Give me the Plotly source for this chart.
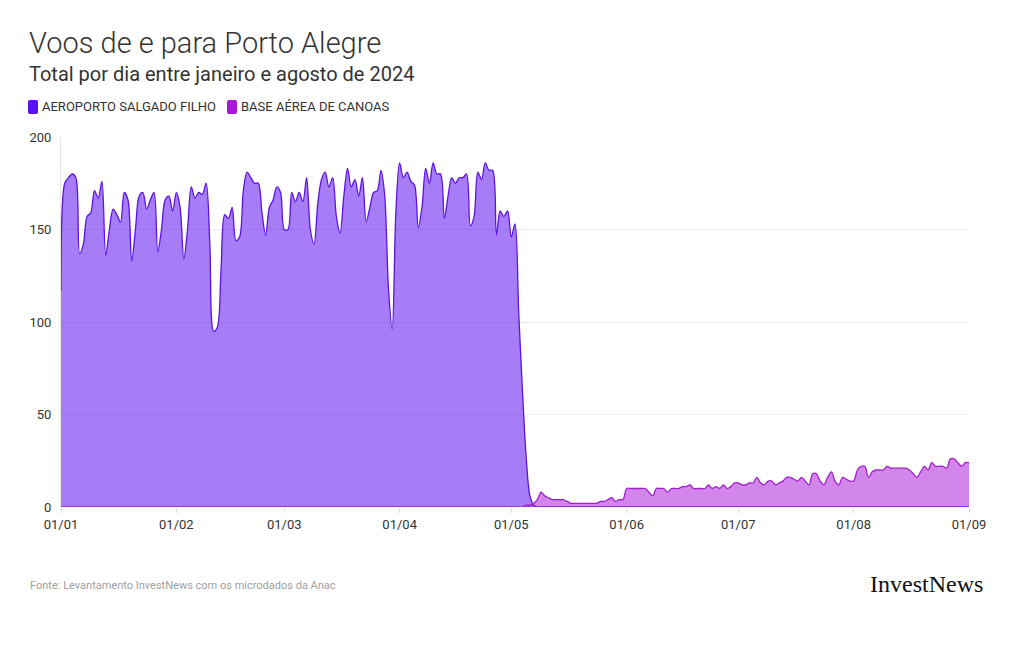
import plotly.graph_objects as go
import pandas as pd

# ---------------- data ----------------
dates = pd.date_range("2024-01-01", "2024-09-01", freq="D")

series_names = ["AEROPORTO SALGADO FILHO", "BASE AÉREA DE CANOAS"]

salgado = [
    117, 175, 178, 180, 178, 137, 142, 157, 159, 171, 167, 176, 136, 150, 161, 158,
    154, 170, 166, 133, 150, 168, 170, 161, 166, 170, 138, 150, 166, 168, 160, 170,
    162, 134, 150, 173, 167, 170, 169, 175, 142, 95, 97, 128, 158, 156, 162, 144,
    146, 171, 181, 178, 175, 175, 159, 147, 162, 166, 173, 170, 150, 150, 170,
    165, 170, 165, 178, 150, 142, 164, 177, 181, 173, 178, 157, 148, 168, 183, 173,
    177, 168, 178, 154, 162, 170, 171, 182, 168, 118, 96, 160, 186, 178, 181,
    176, 174, 151, 162, 183, 175, 186, 180, 180, 156, 168, 178, 175, 178, 178, 180,
    152, 157, 181, 177, 186, 182, 182, 147, 160, 157, 160, 146, 153, 105, 63, 27,
    6, 1,
    0, 0, 0, 0, 0, 0, 0, 0, 0, 0, 0, 0, 0, 0, 0, 0, 0, 0, 0, 0,
    0, 0, 0, 0, 0, 0, 0, 0, 0, 0, 0, 0, 0, 0, 0, 0, 0, 0, 0, 0,
    0, 0, 0, 0, 0, 0, 0, 0, 0, 0, 0, 0, 0, 0, 0, 0, 0, 0, 0, 0,
    0, 0, 0, 0, 0, 0, 0, 0, 0, 0, 0, 0, 0, 0, 0, 0, 0, 0, 0, 0,
    0, 0, 0, 0, 0, 0, 0, 0, 0, 0, 0, 0, 0, 0, 0, 0, 0, 0, 0, 0,
    0, 0, 0, 0, 0, 0, 0, 0, 0, 0, 0, 0, 0, 0, 0, 0, 0,
]

canoas = [
    0, 0, 0, 0, 0, 0, 0, 0, 0, 0, 0, 0, 0, 0, 0, 0, 0, 0, 0, 0,
    0, 0, 0, 0, 0, 0, 0, 0, 0, 0, 0, 0, 0, 0, 0, 0, 0, 0, 0, 0,
    0, 0, 0, 0, 0, 0, 0, 0, 0, 0, 0, 0, 0, 0, 0, 0, 0, 0, 0, 0,
    0, 0, 0, 0, 0, 0, 0, 0, 0, 0, 0, 0, 0, 0, 0, 0, 0, 0, 0, 0,
    0, 0, 0, 0, 0, 0, 0, 0, 0, 0, 0, 0, 0, 0, 0, 0, 0, 0, 0, 0,
    0, 0, 0, 0, 0, 0, 0, 0, 0, 0, 0, 0, 0, 0, 0, 0, 0, 0, 0, 0,
    0, 0, 0,
    0, 0, 1, 1, 2, 4, 8, 6, 5, 4, 4, 4, 4, 3, 2, 2, 2, 2, 2, 2, 2, 2,
    3, 3, 4, 5, 3, 4, 4, 10, 10, 10, 10, 10, 10, 8, 6, 10, 10, 10, 8, 10,
    10, 10, 11, 11, 12, 10, 10, 10, 10, 12, 10, 11, 10, 12, 10, 11, 13, 13,
    12, 12, 13, 13, 16, 13, 12, 14, 14, 12, 13, 14, 16, 16, 15, 14, 16, 14,
    12, 18, 18, 14, 12, 16, 19, 14, 12, 16, 15, 14, 14, 20, 22, 22, 16, 19,
    20, 20, 20, 22, 21, 21, 21, 21, 21, 20, 18, 16, 19, 22, 20, 24, 22, 22,
    22, 21, 26, 26, 24, 22, 24, 24,
]

y_ticks = [0, 50, 100, 150, 200]

title_text = "Voos de e para Porto Alegre"
subtitle_text = "Total por dia entre janeiro e agosto de 2024"
source_text = "Fonte: Levantamento InvestNews com os microdados da Anac"
logo_text = "InvestNews"

# ---------------- style ----------------
W, H = 1020, 650
L, R, T, B = 61, 969, 137, 507  # plot area in px
line_colors = ["#5b12e6", "#a11fcc"]
fill_colors = ["rgba(91,15,240,0.54)", "rgba(169,21,214,0.52)"]
swatch_colors = ["#5a10f0", "#a915d6"]
FONT = "Roboto"


def px_x(px):
    return (px - L) / (R - L)


def px_y(py):
    return (B - py) / (B - T)


fig = go.Figure()
for name, vals, lc, fc in zip(series_names, [salgado, canoas], line_colors, fill_colors):
    fig.add_trace(go.Scatter(
        x=dates, y=vals, name=name, mode="lines",
        line=dict(color=lc, width=1.3, shape="spline", smoothing=0.9),
        fill="tozeroy", fillcolor=fc, showlegend=False,
        hoverinfo="x+y",
    ))

annotations = [
    dict(text=title_text, x=px_x(27), y=px_y(43), xref="paper", yref="paper",
         xanchor="left", yanchor="middle", showarrow=False,
         font=dict(family=FONT, size=29, color="#333333", weight=300)),
    dict(text=subtitle_text, x=px_x(27), y=px_y(74), xref="paper", yref="paper",
         xanchor="left", yanchor="middle", showarrow=False,
         font=dict(family=FONT, size=20, color="#333333")),
    dict(text=source_text, x=px_x(28), y=px_y(585), xref="paper", yref="paper",
         xanchor="left", yanchor="middle", showarrow=False,
         font=dict(family=FONT, size=11, color="#a0a0a0")),
    dict(text=logo_text, x=px_x(985), y=px_y(584), xref="paper", yref="paper",
         xanchor="right", yanchor="middle", showarrow=False,
         font=dict(family="Liberation Serif", size=24, color="#111111")),
]

# legend (swatch + label)
shapes = []
legend_x = [28, 227]
for i, name in enumerate(series_names):
    x0 = legend_x[i]
    shapes.append(dict(
        type="path", xref="paper", yref="paper", xsizemode="pixel", ysizemode="pixel",
        xanchor=px_x(x0), yanchor=px_y(107),
        path="M 0 -5 Q 0 -7 2 -7 L 8 -7 Q 10 -7 10 -5 L 10 5 Q 10 7 8 7 L 2 7 Q 0 7 0 5 Z",
        fillcolor=swatch_colors[i], line=dict(width=0),
    ))
    annotations.append(dict(
        text=name, x=px_x(x0 + 12), y=px_y(107), xref="paper", yref="paper",
        xanchor="left", yanchor="middle", showarrow=False,
        font=dict(family=FONT, size=13, color="#333333"),
    ))

fig.update_layout(
    width=W, height=H,
    margin=dict(l=L, r=W - R, t=T, b=H - B),
    paper_bgcolor="white", plot_bgcolor="white",
    showlegend=False,
    annotations=annotations,
    shapes=shapes,
    font=dict(family=FONT, color="#333333"),
    xaxis=dict(
        type="date", range=[dates[0], dates[-1]],
        tick0="2024-01-01", dtick="M1", tickformat="%d/%m",
        showgrid=False, zeroline=False, showline=False,
        ticks="outside", ticklen=5, tickcolor="#dddddd",
        tickfont=dict(family=FONT, size=13, color="#333333"),
    ),
    yaxis=dict(
        range=[0, 200], tickvals=y_ticks,
        showgrid=True, gridcolor="#ebebeb", gridwidth=1,
        zeroline=False, showline=True, linecolor="#e6e6e6",
        ticks="", ticklabelstandoff=6,
        tickfont=dict(family=FONT, size=13, color="#333333"),
    ),
)

fig.write_html(
    "out.html",
    config={"displayModeBar": False},
    post_script="document.body.style.margin='0';document.body.style.padding='0';",
)
